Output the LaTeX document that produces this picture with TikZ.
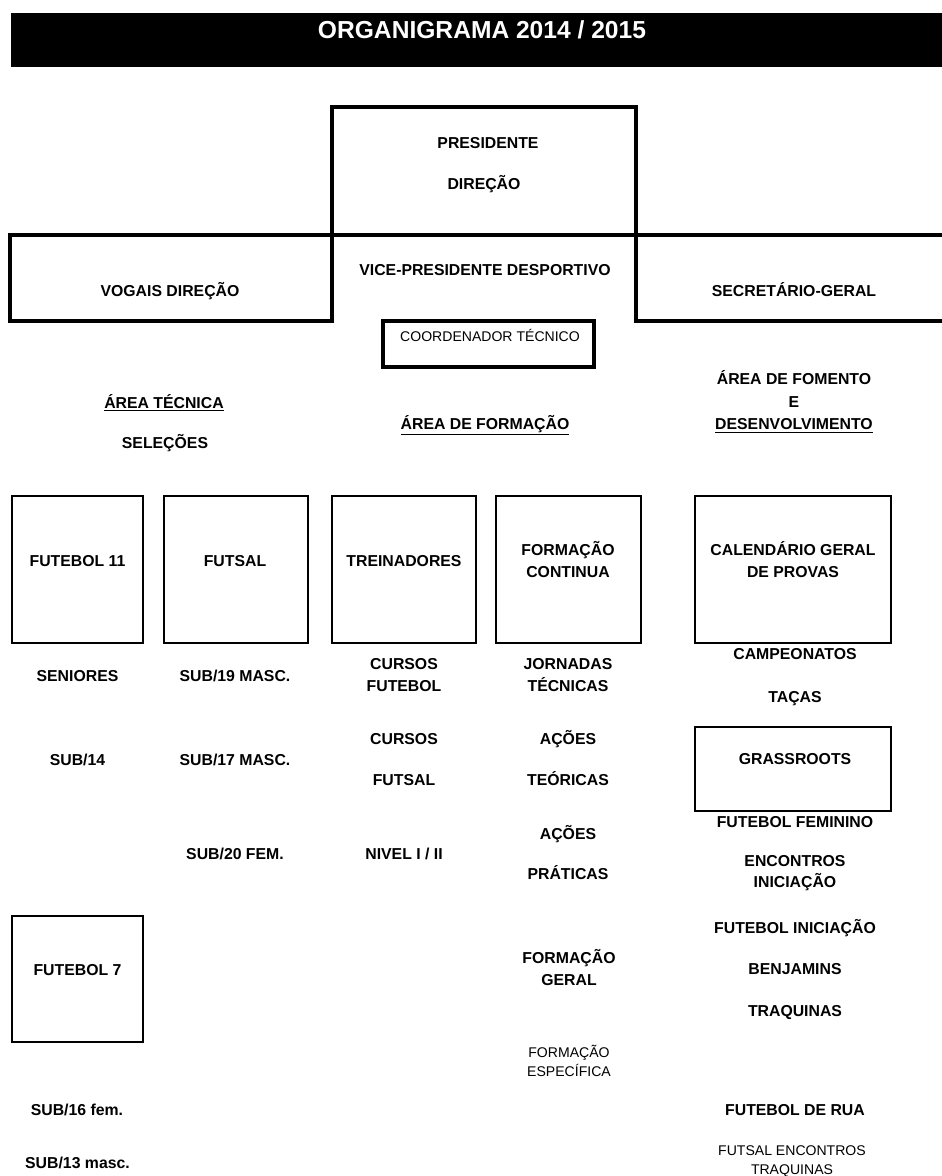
\documentclass[tikz,border=0pt]{standalone}
\usepackage{fontspec}
\setmainfont{Liberation Sans}
\usepackage{xcolor}
\usetikzlibrary{positioning}
\tikzset{
    heavy/.style={rectangle, draw, line width=2.3pt, inner sep=0pt},
    frame/.style={rectangle, draw, line width=1.5pt, inner sep=0pt},
    bar/.style={rectangle, fill=black, inner sep=0pt},
    lbl/.style={font=\bfseries\fontsize{9}{12.5}\selectfont, align=center, inner sep=0pt, anchor=base},
    lbl2/.style={font=\bfseries\fontsize{9}{12.5}\selectfont, align=center, inner sep=0pt},
    small/.style={font=\fontsize{8}{10.5}\selectfont, align=center, inner sep=0pt},
    title/.style={font=\bfseries\fontsize{14}{16}\selectfont, text=white, inner sep=0pt, anchor=base}
}

\begin{document}
\begin{tikzpicture}[x=0.02cm, y=-0.02cm]
    \useasboundingbox (0,0) rectangle (942,1176);

    % Title bar
    \node[bar, minimum width=18.7cm, minimum height=1.08cm] (bar) at (478.5,40) {};
    \node[title] (titulo) at (482,39) {ORGANIGRAMA 2014 / 2015};

    % Direction
    \node[heavy, minimum width=6.08cm, minimum height=2.56cm] (pres) at (484,171) {};
    \node[heavy, minimum width=6.44cm, minimum height=1.72cm] (vogais) at (171,278) {};
    \node[heavy, minimum width=6.16cm, minimum height=1.72cm] (secretario) at (790,278) {};
    \node[heavy, minimum width=4.22cm, minimum height=0.92cm] (coord) at (488.5,344) {};

    \node[lbl] (presidente) at (488,149) {PRESIDENTE};
    \node[lbl] (direcao) at (484,189) {DIREÇÃO};
    \node[lbl] (vice) at (485,275) {VICE-PRESIDENTE DESPORTIVO};
    \node[lbl] (vogaistxt) at (170,296) {VOGAIS DIREÇÃO};
    \node[lbl] (secrtxt) at (794,296) {SECRETÁRIO-GERAL};
    \node[small, anchor=base] (coordtxt) at (490,341) {COORDENADOR TÉCNICO};

    % Areas
    \node[lbl] (areatec) at (164,408) {\underline{ÁREA TÉCNICA}};
    \node[lbl] (selecoes) at (165,448) {SELEÇÕES};
    \node[lbl] (areaform) at (485,429) {\underline{ÁREA DE FORMAÇÃO}};
    \node[lbl2, font=\bfseries\fontsize{9}{12.75}\selectfont] (areafom) at (794,402) {ÁREA DE FOMENTO\\E\\\underline{DESENVOLVIMENTO}};

    % Boxes
    \node[frame, minimum width=2.62cm, minimum height=2.94cm] (fut11) at (77.5,569.5) {};
    \node[frame, minimum width=2.88cm, minimum height=2.94cm] (futsal) at (236,569.5) {};
    \node[frame, minimum width=2.88cm, minimum height=2.94cm] (treinadores) at (404,569.5) {};
    \node[frame, minimum width=2.90cm, minimum height=2.94cm] (formcont) at (568.5,569.5) {};
    \node[frame, minimum width=3.92cm, minimum height=2.94cm] (calendario) at (793,569.5) {};
    \node[frame, minimum width=3.92cm, minimum height=1.68cm] (grass) at (793,769) {};
    \node[frame, minimum width=2.62cm, minimum height=2.52cm] (fut7) at (77.5,979) {};

    \node[lbl] (fut11txt) at (77.5,566) {FUTEBOL 11};
    \node[lbl] (futsaltxt) at (235,566) {FUTSAL};
    \node[lbl] (treintxt) at (404,566) {TREINADORES};
    \node[lbl2, font=\bfseries\fontsize{9}{13}\selectfont] (formconttxt) at (568,559.5) {FORMAÇÃO\\CONTINUA};
    \node[lbl2, font=\bfseries\fontsize{9}{13}\selectfont] (calendtxt) at (793,559.5) {CALENDÁRIO GERAL\\DE PROVAS};
    \node[lbl] (grasstxt) at (795,764) {GRASSROOTS};
    \node[lbl] (fut7txt) at (77.5,975) {FUTEBOL 7};

    % Selecoes
    \node[lbl] (seniores) at (77.5,681) {SENIORES};
    \node[lbl] (sub14) at (77.5,765) {SUB/14};
    \node[lbl] (sub16) at (77,1115) {SUB/16 fem.};
    \node[lbl] (sub13) at (77.5,1168) {SUB/13 masc.};
    \node[lbl] (sub19) at (235,681) {SUB/19 MASC.};
    \node[lbl] (sub17) at (235,765) {SUB/17 MASC.};
    \node[lbl] (sub20) at (235,859) {SUB/20 FEM.};

    % Formacao
    \node[lbl2] (cursosfut) at (404,675) {CURSOS\\FUTEBOL};
    \node[lbl] (cursosfs) at (404,744) {CURSOS};
    \node[lbl] (futsalcur) at (404,785) {FUTSAL};
    \node[lbl] (nivel) at (404,859) {NIVEL I / II};
    \node[lbl2] (jornadas) at (568,675) {JORNADAS\\TÉCNICAS};
    \node[lbl] (acoes1) at (568,744) {AÇÕES};
    \node[lbl] (teoricas) at (568,785) {TEÓRICAS};
    \node[lbl] (acoes2) at (568,839) {AÇÕES};
    \node[lbl] (praticas) at (568,879) {PRÁTICAS};
    \node[lbl2] (formgeral) at (569,968) {FORMAÇÃO\\GERAL};
    \node[small] (formesp) at (569,1061) {FORMAÇÃO\\ESPECÍFICA};

    % Fomento
    \node[lbl] (campeonatos) at (795,659) {CAMPEONATOS};
    \node[lbl] (tacas) at (795,702) {TAÇAS};
    \node[lbl] (feminino) at (795,827) {FUTEBOL FEMININO};
    \node[lbl2, font=\bfseries\fontsize{9}{12}\selectfont] (encontros) at (795,873.5) {ENCONTROS\\INICIAÇÃO};
    \node[lbl] (futini) at (795,933) {FUTEBOL INICIAÇÃO};
    \node[lbl] (benjamins) at (795,974) {BENJAMINS};
    \node[lbl] (traquinas) at (795,1016) {TRAQUINAS};
    \node[lbl] (futrua) at (795,1115) {FUTEBOL DE RUA};
    \node[small, font=\fontsize{8}{10.8}\selectfont] (futsalenc) at (792,1161.5) {FUTSAL ENCONTROS\\TRAQUINAS};
\end{tikzpicture}
\end{document}
